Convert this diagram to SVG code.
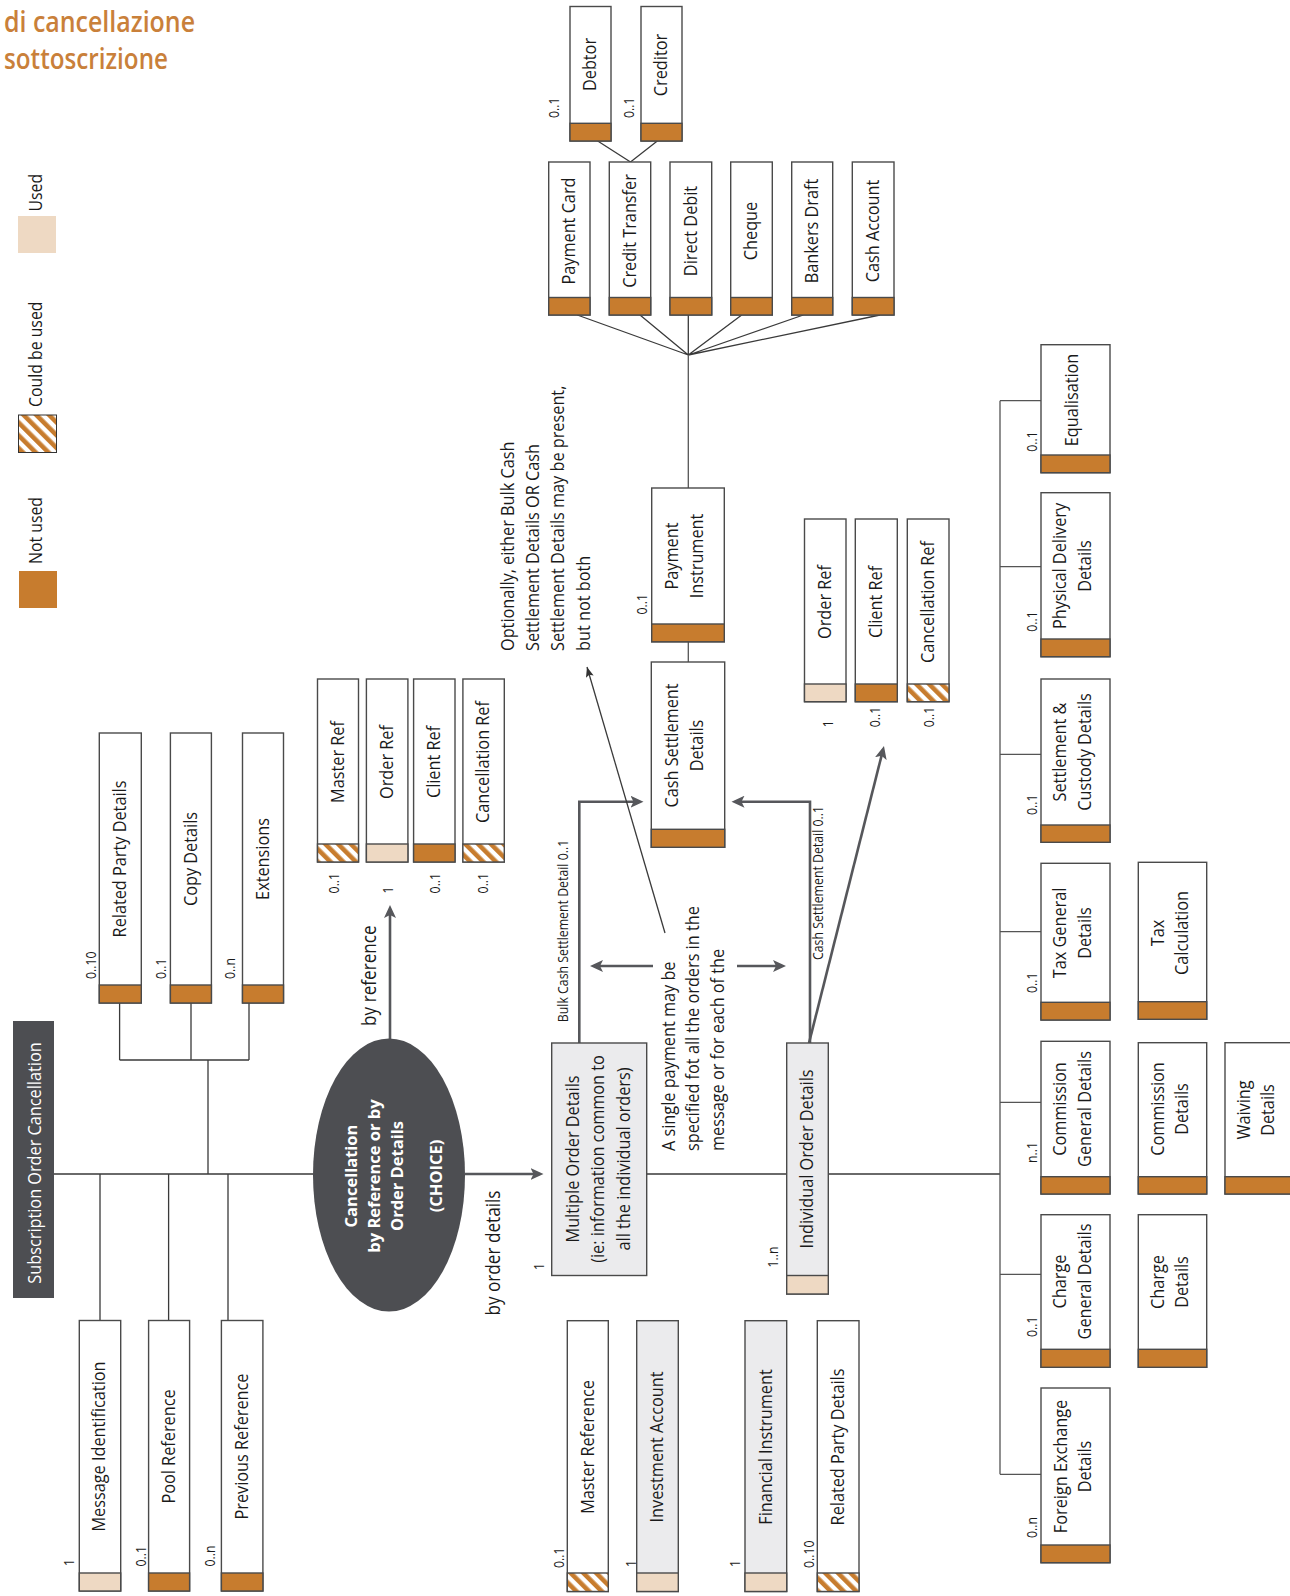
<svg xmlns="http://www.w3.org/2000/svg" width="1290" height="1596" viewBox="0 0 1290 1596">
<defs>
<pattern id="stripes" patternUnits="userSpaceOnUse" width="9" height="9" patternTransform="rotate(-45)">
<rect width="9" height="9" fill="#fff"/><rect width="4.6" height="9" fill="#C77C2E"/>
</pattern>
<marker id="ah" markerUnits="userSpaceOnUse" markerWidth="14" markerHeight="12" refX="9" refY="6" orient="auto">
<path d="M0,0 L13,6 L0,12 L3,6 z" fill="#56575B"/>
</marker>
<marker id="ahs" markerUnits="userSpaceOnUse" markerWidth="11" markerHeight="9" refX="10" refY="4" orient="auto">
<path d="M0,0 L10,4 L0,8 L2,4 z" fill="#333"/>
</marker>
</defs>
<style>
.t{font-family:"Open Sans","Liberation Sans",sans-serif;font-size:18.5px;fill:#1a1a1a;font-weight:380}
.lbl{font-size:14px}
.con{font-size:19.5px}
.mid{text-anchor:middle}
.box{stroke:#4a4a4a;stroke-width:1.4}
.w{fill:#fff}
.g{fill:#EBEBED}
.nu{fill:#C77C2E}
.u{fill:#EED9C3}
.cb{fill:url(#stripes)}
.ln{stroke:#3a3a3a;stroke-width:1.3;fill:none}
.ar{stroke:#56575B;stroke-width:2.6;fill:none}
.title{font-family:"Open Sans","Liberation Sans",sans-serif;font-size:28px;fill:#C9803A;font-weight:600}
</style>
<rect width="1290" height="1596" fill="#fff"/>

<g id="title">
<text class="title" x="4" y="31.5" textLength="191" lengthAdjust="spacingAndGlyphs">di cancellazione</text>
<text class="title" x="4" y="68.5" textLength="164" lengthAdjust="spacingAndGlyphs">sottoscrizione</text>
</g>

<g id="legend">
<text class="t" style="font-size:18px" transform="translate(41.5,211.5) rotate(-90) scale(0.88,1)">Used</text>
<rect x="18" y="216" width="38" height="37" class="u"/>
<text class="t" style="font-size:18px" transform="translate(41.5,407) rotate(-90) scale(0.88,1)">Could be used</text>
<rect x="18.5" y="415" width="38" height="37.5" fill="url(#stripes)" stroke="#333" stroke-width="1"/>
<text class="t" style="font-size:18px" transform="translate(41.5,564) rotate(-90) scale(0.88,1)">Not used</text>
<rect x="19" y="571" width="38" height="37" class="nu"/>
</g>

<g id="connectors">
<path class="ln" d="M54,1174 H313 M100,1174 V1320 M168.6,1174 V1320 M228,1174 V1320 M208,1174 V1060 M119.6,1060 H249 M119.6,1060 V1003 M191,1060 V1003 M249,1060 V1003"/>
<path class="ln" d="M646.7,1174 H786.7 M828.3,1174 H1000"/>
<path class="ln" style="stroke:#555" d="M1000,400.7 V1474.3 M1000,400.7 H1041 M1000,566.7 H1041 M1000,754.3 H1041 M1000,931.7 H1041 M1000,1102.3 H1041 M1000,1274.3 H1041 M1000,1474.3 H1041"/>
<path class="ln" d="M688.3,355 L577.3,315 M688.3,355 L640,315 M688.3,355 V315 M688.3,355 L741.7,315 M688.3,355 L803.3,315 M688.3,355 L880,315"/>
<path class="ln" style="stroke:#555" d="M688.3,355 V488 M688.3,641.8 V662"/>
<path class="ln" d="M597.7,141 L630.5,162 L657.3,141"/>
<path class="ar" d="M390,1039 V909" marker-end="url(#ah)"/>
<path class="ar" d="M465,1174 H539.5" marker-end="url(#ah)"/>
<path class="ar" d="M579.3,1043 V801.7 H639.5" marker-end="url(#ah)"/>
<path class="ar" d="M810,1043 V801.7 H735.5" marker-end="url(#ah)"/>
<path class="ar" d="M653,966 H594" marker-end="url(#ah)"/>
<path class="ar" d="M737,966 H782" marker-end="url(#ah)"/>
<path class="ar" d="M809,1043 L883,749.9" marker-end="url(#ah)"/>
<path class="ln" d="M665,933 L587,667" marker-end="url(#ahs)"/>
<text class="t con" transform="translate(376,975.6) rotate(-90) scale(0.88,1)" text-anchor="middle">by reference</text>
<text class="t con" transform="translate(499.5,1253) rotate(-90) scale(0.88,1)" text-anchor="middle">by order details</text>
<text class="t lbl" transform="translate(567.5,931) rotate(-90) scale(0.88,1)" text-anchor="middle">Bulk Cash Settlement Detail 0..1</text>
<text class="t lbl" transform="translate(823,883) rotate(-90) scale(0.88,1)" text-anchor="middle">Cash Settlement Detail 0..1</text>
</g>

<g id="note-payment">
<text class="t" transform="translate(674.5,1151) rotate(-90) scale(0.88,1)"><tspan x="0" y="0">A single payment may be</tspan><tspan x="0" y="25">specified fot all the orders in the</tspan><tspan x="0" y="50">message or for each of the</tspan></text>
</g>
<g id="note-optional">
<text class="t" transform="translate(513.5,651) rotate(-90) scale(0.88,1)"><tspan x="0" y="0">Optionally, either Bulk Cash</tspan><tspan x="0" y="25.5">Settlement Details OR Cash</tspan><tspan x="0" y="51">Settlement Details may be present,</tspan><tspan x="0" y="76.5">but not both</tspan></text>
</g>

<g id="root">
<rect x="13" y="1021" width="41" height="277" fill="#4D4E52"/>
<text class="t mid" style="fill:#fff" transform="translate(40.5,1163) rotate(-90) scale(0.88,1)">Subscription Order Cancellation</text>
</g>

<g id="related-party-top">
<rect class="box w" x="99.3" y="733" width="42" height="270"/>
<rect class="box nu" x="99.3" y="985" width="42" height="18"/>
<text class="t mid" transform="translate(125.5,859) rotate(-90) scale(0.88,1)">Related Party Details</text>
<text class="t lbl" transform="translate(96,979) rotate(-90) scale(0.88,1)">0..10</text>
</g>
<g id="copy-details">
<rect class="box w" x="170.4" y="733" width="41" height="270"/>
<rect class="box nu" x="170.4" y="985" width="41" height="18"/>
<text class="t mid" transform="translate(196.5,859) rotate(-90) scale(0.88,1)">Copy Details</text>
<text class="t lbl" transform="translate(165.5,979) rotate(-90) scale(0.88,1)">0..1</text>
</g>
<g id="extensions">
<rect class="box w" x="242.5" y="733" width="41" height="270"/>
<rect class="box nu" x="242.5" y="985" width="41" height="18"/>
<text class="t mid" transform="translate(268.5,859) rotate(-90) scale(0.88,1)">Extensions</text>
<text class="t lbl" transform="translate(234.5,979) rotate(-90) scale(0.88,1)">0..n</text>
</g>

<g id="message-identification">
<rect class="box w" x="79.3" y="1320.5" width="41.4" height="270.5"/>
<rect class="box u" x="79.3" y="1573" width="41.4" height="18"/>
<text class="t mid" transform="translate(105,1446.5) rotate(-90) scale(0.88,1)">Message Identification</text>
<text class="t lbl" transform="translate(74,1566) rotate(-90) scale(0.88,1)">1</text>
</g>
<g id="pool-reference">
<rect class="box w" x="148.6" y="1320.5" width="41" height="270.5"/>
<rect class="box nu" x="148.6" y="1573" width="41" height="18"/>
<text class="t mid" transform="translate(174.5,1446.5) rotate(-90) scale(0.88,1)">Pool Reference</text>
<text class="t lbl" transform="translate(146,1566.5) rotate(-90) scale(0.88,1)">0..1</text>
</g>
<g id="previous-reference">
<rect class="box w" x="221.4" y="1320.5" width="41.5" height="270.5"/>
<rect class="box nu" x="221.4" y="1573" width="41.5" height="18"/>
<text class="t mid" transform="translate(247.5,1446.5) rotate(-90) scale(0.88,1)">Previous Reference</text>
<text class="t lbl" transform="translate(215,1566.5) rotate(-90) scale(0.88,1)">0..n</text>
</g>

<g id="choice">
<ellipse cx="389" cy="1175" rx="76" ry="136.5" fill="#4D4E52"/>
<text class="t mid" style="fill:#fff;font-weight:700;font-size:16.5px" transform="translate(356.5,1176) rotate(-90)"><tspan x="0" y="0">Cancellation</tspan><tspan x="0" y="23">by Reference or by</tspan><tspan x="0" y="46">Order Details</tspan><tspan x="0" y="85">(CHOICE)</tspan></text>
</g>

<g id="master-ref">
<rect class="box w" x="317.5" y="679" width="41" height="183"/>
<rect class="box cb" x="317.5" y="844" width="41" height="18"/>
<text class="t mid" transform="translate(344,762) rotate(-90) scale(0.88,1)">Master Ref</text>
<text class="t lbl" transform="translate(339,893.4) rotate(-90) scale(0.88,1)">0..1</text>
</g>
<g id="order-ref">
<rect class="box w" x="366.4" y="679" width="41.5" height="183"/>
<rect class="box u" x="366.4" y="844" width="41.5" height="18"/>
<text class="t mid" transform="translate(393,762) rotate(-90) scale(0.88,1)">Order Ref</text>
<text class="t lbl" transform="translate(392.5,893.4) rotate(-90) scale(0.88,1)">1</text>
</g>
<g id="client-ref">
<rect class="box w" x="413.6" y="679" width="41.4" height="183"/>
<rect class="box nu" x="413.6" y="844" width="41.4" height="18"/>
<text class="t mid" transform="translate(440,762) rotate(-90) scale(0.88,1)">Client Ref</text>
<text class="t lbl" transform="translate(439.5,893.4) rotate(-90) scale(0.88,1)">0..1</text>
</g>
<g id="cancellation-ref">
<rect class="box w" x="462.9" y="679" width="41.4" height="183"/>
<rect class="box cb" x="462.9" y="844" width="41.4" height="18"/>
<text class="t mid" transform="translate(489,762) rotate(-90) scale(0.88,1)">Cancellation Ref</text>
<text class="t lbl" transform="translate(488,893.4) rotate(-90) scale(0.88,1)">0..1</text>
</g>

<g id="multiple-order-details">
<rect class="box g" x="551.7" y="1043" width="95" height="232.5"/>
<text class="t mid" transform="translate(578.5,1159) rotate(-90) scale(0.88,1)"><tspan x="0" y="0">Multiple Order Details</tspan><tspan x="0" y="26">(ie: information common to</tspan><tspan x="0" y="52">all the individual orders)</tspan></text>
<text class="t lbl" transform="translate(544,1270) rotate(-90) scale(0.88,1)">1</text>
</g>
<g id="individual-order-details">
<rect class="box g" x="786.7" y="1043" width="41.6" height="251"/>
<rect class="box u" x="786.7" y="1275.5" width="41.6" height="18.5"/>
<text class="t mid" transform="translate(813,1159) rotate(-90) scale(0.88,1)">Individual Order Details</text>
<text class="t lbl" transform="translate(778,1267.5) rotate(-90) scale(0.88,1)">1..n</text>
</g>

<g id="master-reference">
<rect class="box w" x="567.3" y="1320.7" width="41" height="270.8"/>
<rect class="box cb" x="567.3" y="1573" width="41" height="18.5"/>
<text class="t mid" transform="translate(593.5,1447) rotate(-90) scale(0.88,1)">Master Reference</text>
<text class="t lbl" transform="translate(564,1568) rotate(-90) scale(0.88,1)">0..1</text>
</g>
<g id="investment-account">
<rect class="box g" x="636.7" y="1320.7" width="41.6" height="270.8"/>
<rect class="box u" x="636.7" y="1573" width="41.6" height="18.5"/>
<text class="t mid" transform="translate(663,1447) rotate(-90) scale(0.88,1)">Investment Account</text>
<text class="t lbl" transform="translate(635.5,1567) rotate(-90) scale(0.88,1)">1</text>
</g>
<g id="financial-instrument">
<rect class="box g" x="745" y="1320.7" width="41.7" height="270.8"/>
<rect class="box u" x="745" y="1573" width="41.7" height="18.5"/>
<text class="t mid" transform="translate(771.5,1447) rotate(-90) scale(0.88,1)">Financial Instrument</text>
<text class="t lbl" transform="translate(739.5,1567) rotate(-90) scale(0.88,1)">1</text>
</g>
<g id="related-party-lower">
<rect class="box w" x="817.3" y="1320.7" width="41.7" height="270.8"/>
<rect class="box cb" x="817.3" y="1573" width="41.7" height="18.5"/>
<text class="t mid" transform="translate(843.5,1447) rotate(-90) scale(0.88,1)">Related Party Details</text>
<text class="t lbl" transform="translate(813.5,1568) rotate(-90) scale(0.88,1)">0..10</text>
</g>

<g id="cash-settlement-details">
<rect class="box w" x="651.3" y="662" width="73.4" height="185.3"/>
<rect class="box nu" x="651.3" y="829.3" width="73.4" height="18"/>
<text class="t mid" transform="translate(678,745.5) rotate(-90) scale(0.88,1)"><tspan x="0" y="0">Cash Settlement</tspan><tspan x="0" y="25.5">Details</tspan></text>
</g>
<g id="payment-instrument">
<rect class="box w" x="651.7" y="488" width="72.6" height="153.8"/>
<rect class="box nu" x="651.7" y="624" width="72.6" height="17.8"/>
<text class="t mid" transform="translate(678,556) rotate(-90) scale(0.88,1)"><tspan x="0" y="0">Payment</tspan><tspan x="0" y="25.5">Instrument</tspan></text>
<text class="t lbl" transform="translate(646.5,614.5) rotate(-90) scale(0.88,1)">0..1</text>
</g>

<g id="payment-card">
<rect class="box w" x="548.7" y="162" width="41.3" height="153"/>
<rect class="box nu" x="548.7" y="297.5" width="41.3" height="17.5"/>
<text class="t mid" transform="translate(575,231) rotate(-90) scale(0.88,1)">Payment Card</text>
</g>
<g id="credit-transfer">
<rect class="box w" x="609.3" y="162" width="41.4" height="153"/>
<rect class="box nu" x="609.3" y="297.5" width="41.4" height="17.5"/>
<text class="t mid" transform="translate(635.5,231) rotate(-90) scale(0.88,1)">Credit Transfer</text>
</g>
<g id="direct-debit">
<rect class="box w" x="670" y="162" width="41.7" height="153"/>
<rect class="box nu" x="670" y="297.5" width="41.7" height="17.5"/>
<text class="t mid" transform="translate(696.5,231) rotate(-90) scale(0.88,1)">Direct Debit</text>
</g>
<g id="cheque">
<rect class="box w" x="730.7" y="162" width="41.6" height="153"/>
<rect class="box nu" x="730.7" y="297.5" width="41.6" height="17.5"/>
<text class="t mid" transform="translate(757,231) rotate(-90) scale(0.88,1)">Cheque</text>
</g>
<g id="bankers-draft">
<rect class="box w" x="791.7" y="162" width="41" height="153"/>
<rect class="box nu" x="791.7" y="297.5" width="41" height="17.5"/>
<text class="t mid" transform="translate(817.5,231) rotate(-90) scale(0.88,1)">Bankers Draft</text>
</g>
<g id="cash-account">
<rect class="box w" x="852.3" y="162" width="41.7" height="153"/>
<rect class="box nu" x="852.3" y="297.5" width="41.7" height="17.5"/>
<text class="t mid" transform="translate(878.5,231) rotate(-90) scale(0.88,1)">Cash Account</text>
</g>

<g id="debtor">
<rect class="box w" x="570" y="6.5" width="41" height="134.5"/>
<rect class="box nu" x="570" y="123.3" width="41" height="17.7"/>
<text class="t mid" transform="translate(596,64.5) rotate(-90) scale(0.88,1)">Debtor</text>
<text class="t lbl" transform="translate(559,118) rotate(-90) scale(0.88,1)">0..1</text>
</g>
<g id="creditor">
<rect class="box w" x="641" y="6.5" width="41" height="134.5"/>
<rect class="box nu" x="641" y="123.3" width="41" height="17.7"/>
<text class="t mid" transform="translate(667,65) rotate(-90) scale(0.88,1)">Creditor</text>
<text class="t lbl" transform="translate(634,118) rotate(-90) scale(0.88,1)">0..1</text>
</g>

<g id="order-ref-individual">
<rect class="box w" x="804.5" y="519" width="41.5" height="182.7"/>
<rect class="box u" x="804.5" y="684" width="41.5" height="17.7"/>
<text class="t mid" transform="translate(831,602) rotate(-90) scale(0.88,1)">Order Ref</text>
<text class="t lbl" transform="translate(833,727.3) rotate(-90) scale(0.88,1)">1</text>
</g>
<g id="client-ref-individual">
<rect class="box w" x="855.3" y="519" width="42" height="182.7"/>
<rect class="box nu" x="855.3" y="684" width="42" height="17.7"/>
<text class="t mid" transform="translate(882,602) rotate(-90) scale(0.88,1)">Client Ref</text>
<text class="t lbl" transform="translate(880,727.3) rotate(-90) scale(0.88,1)">0..1</text>
</g>
<g id="cancellation-ref-individual">
<rect class="box w" x="907.3" y="519" width="41.7" height="182.7"/>
<rect class="box cb" x="907.3" y="684" width="41.7" height="17.7"/>
<text class="t mid" transform="translate(934,602) rotate(-90) scale(0.88,1)">Cancellation Ref</text>
<text class="t lbl" transform="translate(934,727.3) rotate(-90) scale(0.88,1)">0..1</text>
</g>

<g id="equalisation">
<rect class="box w" x="1041" y="344.7" width="69" height="128"/>
<rect class="box nu" x="1041" y="455" width="69" height="17.7"/>
<text class="t mid" transform="translate(1078,400) rotate(-90) scale(0.88,1)">Equalisation</text>
<text class="t lbl" transform="translate(1036.5,451.7) rotate(-90) scale(0.88,1)">0..1</text>
</g>
<g id="physical-delivery-details">
<rect class="box w" x="1041" y="492.7" width="69" height="164"/>
<rect class="box nu" x="1041" y="639" width="69" height="17.7"/>
<text class="t mid" transform="translate(1066,566) rotate(-90) scale(0.88,1)"><tspan x="0" y="0">Physical Delivery</tspan><tspan x="0" y="25">Details</tspan></text>
<text class="t lbl" transform="translate(1036.5,631.7) rotate(-90) scale(0.88,1)">0..1</text>
</g>
<g id="settlement-custody-details">
<rect class="box w" x="1041" y="679" width="69" height="163.3"/>
<rect class="box nu" x="1041" y="825" width="69" height="17.3"/>
<text class="t mid" transform="translate(1066,752) rotate(-90) scale(0.88,1)"><tspan x="0" y="0">Settlement &amp;</tspan><tspan x="0" y="25">Custody Details</tspan></text>
<text class="t lbl" transform="translate(1036.5,815) rotate(-90) scale(0.88,1)">0..1</text>
</g>
<g id="tax-general-details">
<rect class="box w" x="1041" y="863.3" width="69" height="156.7"/>
<rect class="box nu" x="1041" y="1002.3" width="69" height="17.7"/>
<text class="t mid" transform="translate(1066,933) rotate(-90) scale(0.88,1)"><tspan x="0" y="0">Tax General</tspan><tspan x="0" y="25">Details</tspan></text>
<text class="t lbl" transform="translate(1036.5,993) rotate(-90) scale(0.88,1)">0..1</text>
</g>
<g id="tax-calculation">
<rect class="box w" x="1138.3" y="862.3" width="68.4" height="157"/>
<rect class="box nu" x="1138.3" y="1001.7" width="68.4" height="17.6"/>
<text class="t mid" transform="translate(1163.5,933) rotate(-90) scale(0.88,1)"><tspan x="0" y="0">Tax</tspan><tspan x="0" y="24.5">Calculation</tspan></text>
</g>
<g id="commission-general-details">
<rect class="box w" x="1041" y="1041.3" width="69" height="152.7"/>
<rect class="box nu" x="1041" y="1176.7" width="69" height="17.3"/>
<text class="t mid" transform="translate(1066,1109) rotate(-90) scale(0.88,1)"><tspan x="0" y="0">Commission</tspan><tspan x="0" y="25">General Details</tspan></text>
<text class="t lbl" transform="translate(1036.5,1163) rotate(-90) scale(0.88,1)">n..1</text>
</g>
<g id="commission-details">
<rect class="box w" x="1138.3" y="1042.7" width="68.4" height="151.3"/>
<rect class="box nu" x="1138.3" y="1176.7" width="68.4" height="17.3"/>
<text class="t mid" transform="translate(1163.5,1109) rotate(-90) scale(0.88,1)"><tspan x="0" y="0">Commission</tspan><tspan x="0" y="24.5">Details</tspan></text>
</g>
<g id="waiving-details">
<rect class="box w" x="1225" y="1042.7" width="69" height="151.3"/>
<rect class="box nu" x="1225" y="1176.7" width="69" height="17.3"/>
<text class="t mid" transform="translate(1249.5,1110) rotate(-90) scale(0.88,1)"><tspan x="0" y="0">Waiving</tspan><tspan x="0" y="25">Details</tspan></text>
</g>
<g id="charge-general-details">
<rect class="box w" x="1041" y="1214.7" width="69" height="152.6"/>
<rect class="box nu" x="1041" y="1349.3" width="69" height="18"/>
<text class="t mid" transform="translate(1066,1281.5) rotate(-90) scale(0.88,1)"><tspan x="0" y="0">Charge</tspan><tspan x="0" y="25">General Details</tspan></text>
<text class="t lbl" transform="translate(1036.5,1337) rotate(-90) scale(0.88,1)">0..1</text>
</g>
<g id="charge-details">
<rect class="box w" x="1138.3" y="1214.7" width="68.4" height="152.6"/>
<rect class="box nu" x="1138.3" y="1349.3" width="68.4" height="18"/>
<text class="t mid" transform="translate(1163.5,1282) rotate(-90) scale(0.88,1)"><tspan x="0" y="0">Charge</tspan><tspan x="0" y="24.5">Details</tspan></text>
</g>
<g id="foreign-exchange-details">
<rect class="box w" x="1041" y="1388" width="69" height="174.7"/>
<rect class="box nu" x="1041" y="1545" width="69" height="17.7"/>
<text class="t mid" transform="translate(1066.5,1466.5) rotate(-90) scale(0.88,1)"><tspan x="0" y="0">Foreign Exchange</tspan><tspan x="0" y="24.5">Details</tspan></text>
<text class="t lbl" transform="translate(1036.5,1538) rotate(-90) scale(0.88,1)">0..n</text>
</g>
</svg>
